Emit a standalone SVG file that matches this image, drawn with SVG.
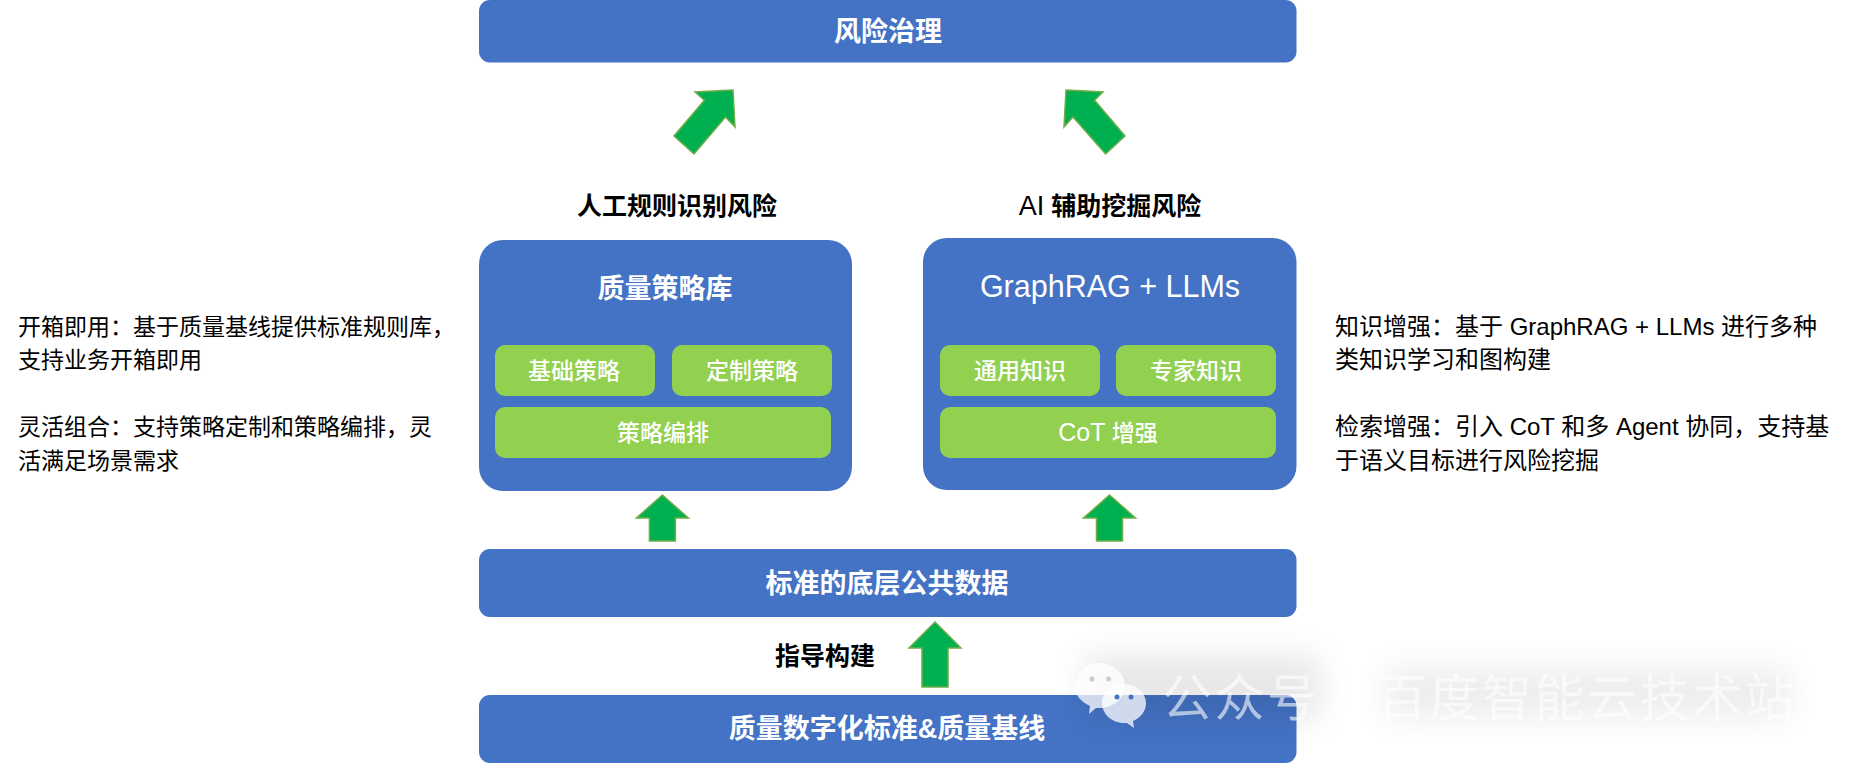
<svg xmlns="http://www.w3.org/2000/svg" width="1854" height="770" viewBox="0 0 1854 770">
<style>
text{font-family:"Liberation Sans","Noto Sans CJK SC",sans-serif}
.b{fill:#4472c4}.g{fill:#92d050}
.a{fill:#00b050;stroke:#70ad47;stroke-width:1.5}
.t{fill:#fff;font-weight:700;text-anchor:middle;font-size:27px}
.s{fill:#fff;font-weight:500;text-anchor:middle;font-size:23px}
.h{fill:#000;font-weight:700;text-anchor:middle;font-size:25px}
.d{fill:#000;font-size:23px}
.e{fill:#000;font-size:24px}
.n{font-weight:400}
.w{fill:#fff;fill-opacity:.6;font-size:50px;letter-spacing:2.5px}
</style>
<defs><filter id="bl" x="-30%" y="-60%" width="160%" height="220%"><feGaussianBlur stdDeviation="16"/></filter></defs>
<rect width="1854" height="770" fill="#fff"/>
<g id="node-top"><rect class="b" x="479" y="0" width="817.5" height="62.5" rx="11"/><text class="t" x="888" y="41">风险治理</text></g>
<g id="connectors">
<polygon class="a" points="733,90 695,92 704.4,100.3 674,136 694,154 725.5,117 735,127"/>
<polygon class="a" points="1066,90 1103,92 1094.6,100.3 1125,136 1105.6,154 1073,117 1064,127"/>
<polygon class="a" points="662.4,495 688.4,518 675.4,518 675.4,541 649.4,541 649.4,518 636.4,518"/>
<polygon class="a" points="1109.5,495 1135.5,518 1122.5,518 1122.5,541 1096.5,541 1096.5,518 1083.5,518"/>
<polygon class="a" points="935,622 961,648 948,648 948,687 922,687 922,648 909,648"/>
</g>
<g id="label-manual"><text class="h" x="677" y="215">人工规则识别风险</text></g>
<g id="label-ai"><text class="h" x="1110" y="215"><tspan class="n" font-size="27">AI</tspan> 辅助挖掘风险</text></g>
<g id="node-left"><rect class="b" x="479" y="240" width="373" height="251" rx="24"/><text class="t" x="665" y="298">质量策略库</text>
<g id="left-a"><rect class="g" x="495" y="345" width="160" height="51" rx="10"/><text class="s" x="574" y="379">基础策略</text></g>
<g id="left-b"><rect class="g" x="672" y="345" width="160" height="51" rx="10"/><text class="s" x="752" y="379">定制策略</text></g>
<g id="left-c"><rect class="g" x="495" y="407" width="336" height="51" rx="10"/><text class="s" x="663" y="441">策略编排</text></g>
</g>
<g id="node-right"><rect class="b" x="923" y="238" width="373.5" height="252" rx="24"/><text class="t n" style="font-size:30.5px" x="1110" y="297">GraphRAG + LLMs</text>
<g id="right-a"><rect class="g" x="940" y="345" width="160" height="51" rx="10"/><text class="s" x="1020" y="379">通用知识</text></g>
<g id="right-b"><rect class="g" x="1116" y="345" width="160" height="51" rx="10"/><text class="s" x="1196" y="379">专家知识</text></g>
<g id="right-c"><rect class="g" x="940" y="407" width="336" height="51" rx="10"/><text class="s" x="1108" y="441"><tspan class="n" font-size="25">CoT</tspan> 增强</text></g>
</g>
<g id="node-data"><rect class="b" x="479" y="549" width="817.5" height="68" rx="11"/><text class="t" x="887" y="593">标准的底层公共数据</text></g>
<g id="label-guide"><text class="h" x="825" y="665">指导构建</text></g>
<g id="node-base"><rect class="b" x="479" y="695" width="817.5" height="68" rx="11"/><text class="t" x="887" y="738">质量数字化标准&amp;质量基线</text></g>
<g id="text-left">
<text class="d" x="18" y="335">开箱即用：基于质量基线提供标准规则库，</text>
<text class="d" x="18" y="368">支持业务开箱即用</text>
<text class="d" x="18" y="435">灵活组合：支持策略定制和策略编排，灵</text>
<text class="d" x="18" y="469">活满足场景需求</text>
</g>
<g id="text-right">
<text class="e" x="1335" y="335">知识增强：基于 GraphRAG + LLMs 进行多种</text>
<text class="e" x="1335" y="368">类知识学习和图构建</text>
<text class="e" x="1335" y="435">检索增强：引入 CoT 和多 Agent 协同，支持基</text>
<text class="e" x="1335" y="469">于语义目标进行风险挖掘</text>
</g>
<g id="watermark">
<rect x="1085" y="655" width="235" height="65" fill="#000" opacity=".09" filter="url(#bl)"/>
<rect x="1385" y="668" width="405" height="50" fill="#000" opacity=".07" filter="url(#bl)"/>
<path d="M1100 663c13 0 25 10 25 23 0 12-12 22-25 22h-4l-7 6 1-8c-9-4-15-11-15-20 0-13 12-23 25-23z" fill="#fff" fill-opacity=".75"/>
<path d="M1124 684c12 0 22 9 22 19 0 9-6 15-13 18l1 7-7-5h-3c-12 0-22-9-22-20s10-19 22-19z" fill="#fff" fill-opacity=".75"/>
<circle cx="1092" cy="679" r="2.5" fill="#ccc"/><circle cx="1108.500" cy="679" r="2.5" fill="#ccc"/>
<circle cx="1117" cy="697" r="2.500" fill="#4472c4"/><circle cx="1131" cy="697" r="2.500" fill="#4472c4"/>
<text class="w" x="1162" y="716">公众号</text>
<text class="w" x="1377" y="716">百度智能云技术站</text>
</g>
</svg>
